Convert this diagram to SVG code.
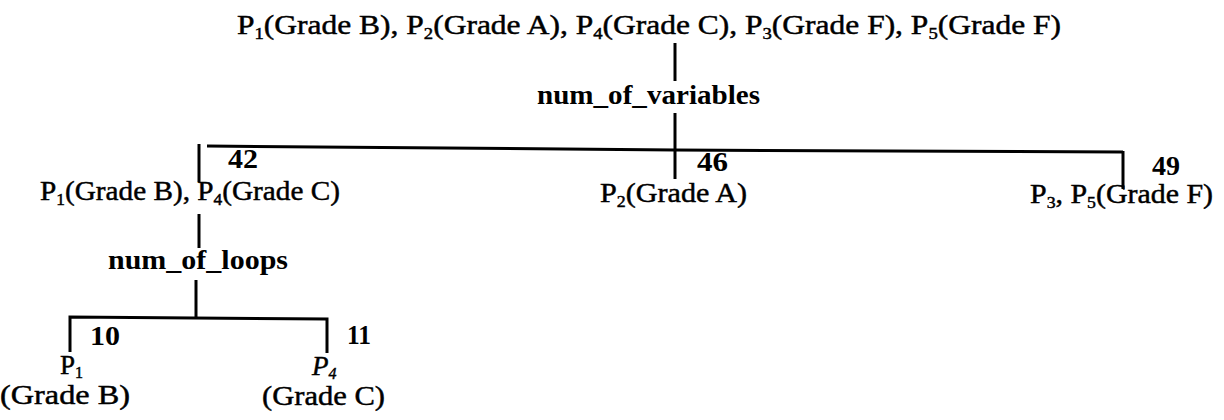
<svg xmlns="http://www.w3.org/2000/svg" width="1224" height="420" viewBox="0 0 1224 420">
<style>
.t{font-family:"Liberation Serif","Times New Roman",serif;font-size:27px;fill:#000;stroke:#000;stroke-width:0.45}
.b{font-family:"Liberation Serif","Times New Roman",serif;font-size:27px;font-weight:bold;fill:#000}
.s{font-size:16px}
.ln{stroke:#000;stroke-width:3;fill:none;stroke-linecap:butt}
</style>
<rect width="1224" height="420" fill="#fff"/>
<g id="connectors">
<line class="ln" x1="675" y1="43" x2="675" y2="81"/>
<line class="ln" x1="675" y1="113" x2="675" y2="179"/>
<path class="ln" d="M207,146 L675,150 L1123,152"/>
<line class="ln" x1="199" y1="144" x2="199" y2="182"/>
<line class="ln" x1="1123" y1="151" x2="1123" y2="189"/>
<line class="ln" x1="199" y1="214" x2="199" y2="248"/>
<line class="ln" x1="196" y1="280" x2="196" y2="318"/>
<path class="ln" d="M70,352 L70,317 L327,319 L327,353"/>
</g>
<g id="root">
<text class="t" x="237" y="34" textLength="824" lengthAdjust="spacingAndGlyphs">P<tspan class="s" dy="5">1</tspan><tspan dy="-5">(Grade B), P</tspan><tspan class="s" dy="5">2</tspan><tspan dy="-5">(Grade A), P</tspan><tspan class="s" dy="5">4</tspan><tspan dy="-5">(Grade C), P</tspan><tspan class="s" dy="5">3</tspan><tspan dy="-5">(Grade F), P</tspan><tspan class="s" dy="5">5</tspan><tspan dy="-5">(Grade F)</tspan></text>
</g>
<g id="split-variables">
<text class="b" x="537" y="104" textLength="223" lengthAdjust="spacingAndGlyphs">num_of_variables</text>
</g>
<g id="node-42">
<text class="b" x="228" y="168" textLength="30" lengthAdjust="spacingAndGlyphs">42</text>
<text class="t" x="40" y="200" textLength="300" lengthAdjust="spacingAndGlyphs">P<tspan class="s" dy="5">1</tspan><tspan dy="-5">(Grade B), P</tspan><tspan class="s" dy="5">4</tspan><tspan dy="-5">(Grade C)</tspan></text>
</g>
<g id="node-46">
<text class="b" x="697" y="171" textLength="31" lengthAdjust="spacingAndGlyphs">46</text>
<text class="t" x="600" y="202" textLength="147" lengthAdjust="spacingAndGlyphs">P<tspan class="s" dy="5">2</tspan><tspan dy="-5">(Grade A)</tspan></text>
</g>
<g id="node-49">
<text class="b" x="1152" y="175" textLength="28" lengthAdjust="spacingAndGlyphs">49</text>
<text class="t" x="1030" y="203" textLength="183" lengthAdjust="spacingAndGlyphs">P<tspan class="s" dy="5">3</tspan><tspan dy="-5">, P</tspan><tspan class="s" dy="5">5</tspan><tspan dy="-5">(Grade F)</tspan></text>
</g>
<g id="split-loops">
<text class="b" x="108" y="269" textLength="180" lengthAdjust="spacingAndGlyphs">num_of_loops</text>
</g>
<g id="node-10">
<text class="b" x="90" y="345" textLength="30" lengthAdjust="spacingAndGlyphs">10</text>
<text class="t" x="60" y="374">P<tspan class="s" dy="4">1</tspan></text>
<text class="t" x="0" y="404" textLength="130" lengthAdjust="spacingAndGlyphs">(Grade B)</text>
</g>
<g id="node-11">
<text class="b" x="347" y="344" textLength="24" lengthAdjust="spacingAndGlyphs">11</text>
<text class="t" x="312" y="375" font-style="italic">P<tspan class="s" dy="4">4</tspan></text>
<text class="t" x="262" y="405" textLength="123" lengthAdjust="spacingAndGlyphs">(Grade C)</text>
</g>
</svg>
